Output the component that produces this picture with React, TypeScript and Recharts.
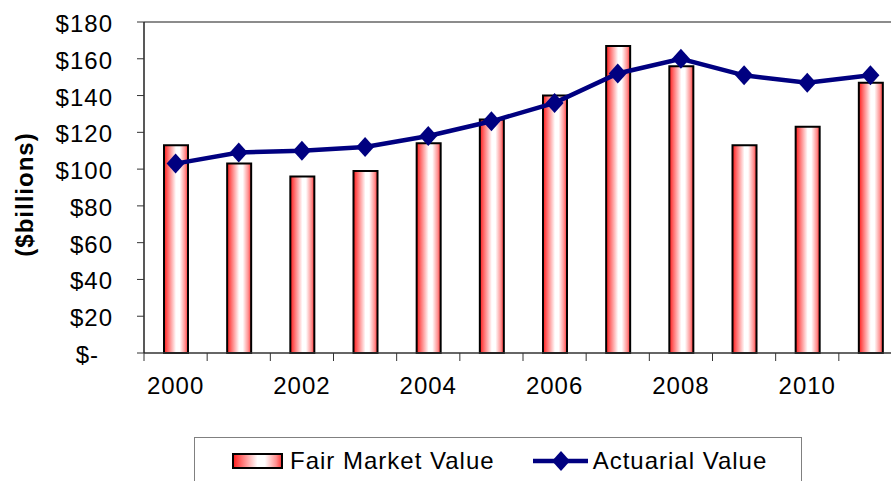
import React from 'react';
import {
    ComposedChart,
    Bar,
    Line,
    XAxis,
    YAxis,
    Legend,
    ReferenceLine,
    Label,
} from 'recharts';

const years = ['2000', '2001', '2002', '2003', '2004', '2005', '2006', '2007', '2008', '2009', '2010', '2011'];
const fairMarketValue = [113, 103, 96, 99, 114, 127, 140, 167, 156, 113, 123, 147];
const actuarialValue = [103, 109, 110, 112, 118, 126, 136, 152, 160, 151, 147, 151];
const yTicks = [0, 20, 40, 60, 80, 100, 120, 140, 160, 180];

const data = years.map((year, i) => ({
    year,
    fmv: fairMarketValue[i],
    av: actuarialValue[i],
}));

const FONT = '"Liberation Sans", Arial, sans-serif';
const NAVY = '#000080';
const PLOT_WIDTH = 758;
const CHART_WIDTH = 902;
const CHART_HEIGHT = 481;

const YTick = (props: any) => {
    const { x, y, payload } = props;
    const v = payload.value;
    return (
        <text
            x={v === 0 ? x - 14 : x}
            y={y}
            dy={10}
            textAnchor="end"
            fontFamily={FONT}
            fontSize={24}
            letterSpacing={1}
            fill="#000"
        >
            {v === 0 ? '$-' : `$${v}`}
        </text>
    );
};

const XTick = (props: any) => {
    const { x, y, payload, index } = props;
    const half = payload && payload.offset > 0 ? payload.offset : PLOT_WIDTH / years.length / 2;
    const bx = x - half;
    return (
        <g>
            <line x1={bx} y1={y - 8} x2={bx} y2={y} stroke="#333" strokeWidth={1} />
            {index % 2 === 0 && (
                <text
                    x={x}
                    y={y}
                    dy={33}
                    textAnchor="middle"
                    fontFamily={FONT}
                    fontSize={24}
                    letterSpacing={1}
                    fill="#000"
                >
                    {payload.value}
                </text>
            )}
        </g>
    );
};

const Diamond = (props: any) => {
    const { cx, cy, index } = props;
    if (cx == null || cy == null) return <g key={`d-${index}`} />;
    return (
        <polygon
            key={`d-${index}`}
            points={`${cx},${cy - 10} ${cx + 9},${cy} ${cx},${cy + 10} ${cx - 9},${cy}`}
            fill={NAVY}
        />
    );
};

const AxisTitle = (props: any) => {
    const { viewBox } = props;
    const cx = 24;
    const cy = viewBox.y + viewBox.height / 2 + 7;
    return (
        <text
            x={cx}
            y={cy}
            transform={`rotate(-90, ${cx}, ${cy})`}
            textAnchor="middle"
            dominantBaseline="central"
            fontFamily={FONT}
            fontSize={24}
            fontWeight="bold"
            letterSpacing={1}
            fill="#000"
        >
            ($billions)
        </text>
    );
};

const legendText: React.CSSProperties = {
    fontFamily: FONT,
    fontSize: 24,
    letterSpacing: 1,
    color: '#000',
    lineHeight: '28px',
};

const ChartLegend = () => (
    <div
        style={{
            display: 'flex',
            alignItems: 'center',
            height: 46,
            paddingLeft: 37,
            boxSizing: 'border-box',
        }}
    >
        <svg width={51} height={16} style={{ display: 'block' }}>
            <defs>
                <linearGradient id="legGrad" x1="0" y1="0" x2="1" y2="0">
                    <stop offset="0%" stopColor="#ff1a1a" />
                    <stop offset="18%" stopColor="#ff7070" />
                    <stop offset="50%" stopColor="#ffffff" />
                    <stop offset="65%" stopColor="#ffffff" />
                    <stop offset="88%" stopColor="#ff9090" />
                    <stop offset="100%" stopColor="#ff3030" />
                </linearGradient>
            </defs>
            <rect x={1} y={1} width={49} height={14} fill="url(#legGrad)" stroke="#000" strokeWidth={2} />
        </svg>
        <span style={{ ...legendText, marginLeft: 7 }}>Fair Market Value</span>
        <svg width={55} height={22} style={{ display: 'block', marginLeft: 38 }}>
            <line x1={0} y1={11} x2={55} y2={11} stroke={NAVY} strokeWidth={4.5} />
            <polygon points="28,1 37,11 28,21 19,11" fill={NAVY} />
        </svg>
        <span style={{ ...legendText, marginLeft: 5 }}>Actuarial Value</span>
    </div>
);

const App: React.FC = () => {
    return (
        <div
            style={{
                position: 'fixed',
                left: 0,
                top: 0,
                width: 891,
                height: 481,
                overflow: 'hidden',
                background: '#fff',
            }}
        >
            <ComposedChart
                width={CHART_WIDTH}
                height={CHART_HEIGHT}
                data={data}
                margin={{ top: 22, right: 0, left: 0, bottom: 0 }}
            >
                <defs>
                    <linearGradient id="fmvGrad" x1="0" y1="0" x2="1" y2="0">
                        <stop offset="0%" stopColor="#ff1a1a" />
                        <stop offset="18%" stopColor="#ff7070" />
                        <stop offset="50%" stopColor="#ffffff" />
                        <stop offset="65%" stopColor="#ffffff" />
                        <stop offset="88%" stopColor="#ff9090" />
                        <stop offset="100%" stopColor="#ff3030" />
                    </linearGradient>
                </defs>
                <XAxis
                    dataKey="year"
                    height={128}
                    interval={0}
                    tickSize={8}
                    tickMargin={0}
                    tickLine={false}
                    axisLine={{ stroke: '#333', strokeWidth: 1.5 }}
                    tick={<XTick />}
                />
                <YAxis
                    width={144}
                    domain={[0, 180]}
                    ticks={yTicks}
                    interval={0}
                    tickSize={7}
                    tickMargin={24}
                    tickLine={{ stroke: '#333', strokeWidth: 1 }}
                    axisLine={{ stroke: '#222', strokeWidth: 1.5 }}
                    tick={<YTick />}
                >
                    <Label content={<AxisTitle />} />
                </YAxis>
                <ReferenceLine y={180} stroke="#8c8c8c" strokeWidth={2} />
                <Legend
                    verticalAlign="middle"
                    align="center"
                    layout="horizontal"
                    content={<ChartLegend />}
                    wrapperStyle={{
                        left: 194,
                        top: 437,
                        width: 608,
                        height: 60,
                        border: '1px solid #808080',
                        background: '#fff',
                        boxSizing: 'border-box',
                    }}
                />
                <Bar
                    dataKey="fmv"
                    name="Fair Market Value"
                    barSize={24}
                    fill="url(#fmvGrad)"
                    stroke="#000"
                    strokeWidth={2}
                    isAnimationActive={false}
                />
                <Line
                    dataKey="av"
                    name="Actuarial Value"
                    type="linear"
                    stroke={NAVY}
                    strokeWidth={4.5}
                    dot={Diamond}
                    activeDot={false}
                    isAnimationActive={false}
                />
            </ComposedChart>
        </div>
    );
};

export default App;
